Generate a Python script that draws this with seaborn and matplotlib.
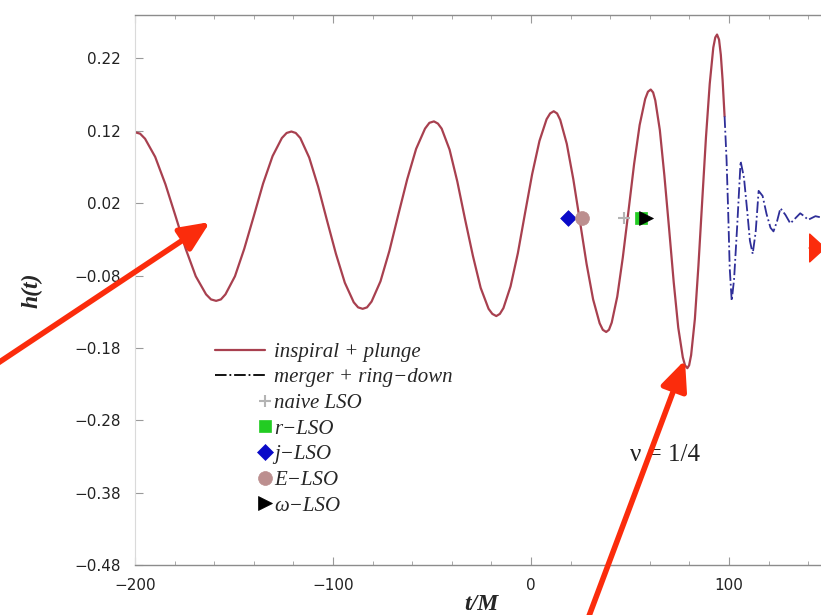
import numpy as np
import pandas as pd
import seaborn as sns
import matplotlib.pyplot as plt
from matplotlib.lines import Line2D
from matplotlib.ticker import MultipleLocator
from matplotlib.legend_handler import HandlerLine2D

# inspiral + plunge part of h(t) (one row per half cycle)
t_insp = [-200, -197.4, -194.9, -189.8, -184.6, -179.5, -174.4, -169.3, -164.1, -161.6,
          -159, -156.6, -154.3, -149.5, -144.8, -140, -135.3, -130.5, -125.8, -123.4,
          -121, -118.8, -116.5, -112, -107.5, -103, -98.5, -94, -89.5, -87.3,
          -85, -82.8, -80.5, -76, -71.5, -67, -62.5, -58, -53.5, -51.3,
          -49, -47.0, -45.1, -41.1, -37.2, -33.3, -29.3, -25.4, -21.4, -19.5,
          -17.5, -15.7, -13.9, -10.3, -6.6, -3.0, 0.6, 4.3, 7.9, 9.7,
          11.5, 13.2, 14.8, 18.1, 21.4, 24.8, 28.1, 31.4, 34.7, 36.3,
          38, 39.4, 40.8, 43.6, 46.4, 49.3, 52.1, 54.9, 57.7, 59.1,
          60.5, 61.7, 62.8, 65.1, 67.4, 69.8, 72.1, 74.4, 76.7, 77.8,
          79, 79.9, 80.9, 82.8, 84.6, 86.5, 88.4, 90.3, 92.1, 93.1,
          94, 95.0, 95.9, 96.8, 97.8]
h_insp = [0.118, 0.116, 0.109, 0.084, 0.046, 0.002, -0.043, -0.081, -0.106, -0.113,
          -0.115, -0.113, -0.106, -0.081, -0.043, 0.002, 0.047, 0.085, 0.110, 0.117,
          0.119, 0.117, 0.110, 0.083, 0.043, -0.004, -0.050, -0.090, -0.117, -0.124,
          -0.126, -0.124, -0.116, -0.088, -0.046, 0.004, 0.053, 0.095, 0.123, 0.131,
          0.133, 0.130, 0.123, 0.094, 0.050, -0.002, -0.053, -0.097, -0.126, -0.133,
          -0.136, -0.133, -0.125, -0.095, -0.049, 0.006, 0.060, 0.106, 0.136, 0.144,
          0.147, 0.144, 0.135, 0.102, 0.053, -0.006, -0.064, -0.113, -0.146, -0.155,
          -0.158, -0.155, -0.145, -0.109, -0.055, 0.010, 0.074, 0.128, 0.164, 0.174,
          0.177, 0.173, 0.162, 0.121, 0.058, -0.016, -0.089, -0.152, -0.193, -0.204,
          -0.208, -0.204, -0.190, -0.140, -0.066, 0.023, 0.111, 0.185, 0.235, 0.249,
          0.253, 0.246, 0.225, 0.190, 0.140]

# merger + ring-down part
t_ring = [97.8, 98.8, 99.6, 100.4, 101.4, 102.6, 104.2, 105.9, 107.6, 109.2,
          110.6, 112.0, 113.5, 115.0, 117.0, 119.0, 121.0, 122.5, 124.3, 126.0,
          128.5, 131.0, 133.5, 136.0, 138.0, 140.0, 143.7, 147.0]
h_ring = [0.140, 0.080, 0.010, -0.070, -0.115, -0.085, -0.010, 0.078, 0.055, 0.010,
          -0.032, -0.050, -0.020, 0.037, 0.030, 0.005, -0.014, -0.019, -0.005, 0.013,
          0.004, -0.008, -0.001, 0.006, 0.002, -0.003, 0.002, 0.000]

# LSO markers
lso_labels = ["naive LSO", "r\u2212LSO", "j\u2212LSO", "E\u2212LSO", "\u03c9\u2212LSO"]
lso_t = [47.0, 55.5, 18.5, 25.8, 58.0]
lso_h = [0.0, 0.0, 0.0, 0.0, 0.0]
lso_markers = ["+", "s", "D", "o", ">"]
lso_colors = ["#b4b4b4", "#22cc22", "#0a0ac8", "#bc8f8f", "#000000"]
lso_sizes = [9, 8, 8, 10, 10]

yticks = [0.22, 0.12, 0.02, -0.08, -0.18, -0.28, -0.38, -0.48]
xticks = [-200, -100, 0, 100]

red = "#a8404f"
navy = "#2e2e98"

sns.set_style("ticks")
plt.rcParams["font.family"] = ["DejaVu Sans"]
serif = "Liberation Serif"

fig = plt.figure(figsize=(8.21, 6.15), dpi=100)
ax = fig.add_axes([0.1644, 0.0813, 0.8356, 0.8943])

insp = pd.DataFrame({"t": t_insp, "h": h_insp})
ring = pd.DataFrame({"t": t_ring, "h": h_ring})
sns.lineplot(data=insp, x="t", y="h", ax=ax, color=red, lw=1.6)
sns.lineplot(data=ring, x="t", y="h", ax=ax, color=navy, lw=1.3, linestyle="-.")

for tt, hh, m, c, s in zip(lso_t, lso_h, lso_markers, lso_colors, lso_sizes):
    sns.scatterplot(x=[tt], y=[hh], ax=ax, marker=m, color=c, s=s ** 2,
                    edgecolor=c if m != "+" else None, linewidth=1.5 if m == "+" else 0.5,
                    zorder=5)

ax.set_xlim(-200, 146.5)
ax.set_ylim(-0.48, 0.28)
ax.set_xticks(xticks)
ax.set_xticklabels([str(v).replace("-", "\u2212") for v in xticks])
ax.xaxis.set_minor_locator(MultipleLocator(20))
ax.set_yticks(yticks)
ax.set_yticklabels([f"{v:.2f}".replace("-", "\u2212") for v in yticks])
ax.set_xlabel("")
ax.set_ylabel("")
ax.tick_params(axis="both", which="both", direction="in", top=True, right=False,
               color="#9a9a9a", labelsize=11, labelcolor="#222222")
ax.tick_params(axis="both", which="major", length=6)
ax.tick_params(axis="both", which="minor", length=3)
ax.tick_params(axis="y", pad=10)
ax.tick_params(axis="x", pad=9)

ax.spines["right"].set_visible(False)
for side in ["top", "bottom"]:
    ax.spines[side].set_color("#8c8c8c")
    ax.spines[side].set_linewidth(1.0)
ax.spines["left"].set_color("#dadada")
ax.spines["left"].set_linewidth(0.8)

fig.text(32 / 821, 1 - 290 / 615, "h(t)", rotation=90, ha="center", va="center",
         family=serif, style="italic", weight="bold", fontsize=17)
fig.text(481 / 821, 1 - 605 / 615, "t/M", ha="center", va="center",
         family=serif, style="italic", weight="bold", fontsize=17)
ax.text(67.7, -0.328, "\u03bd = 1/4", ha="center", va="center",
        family=serif, fontsize=18, color="#222222")


class RightMarker(HandlerLine2D):
    def create_artists(self, *args, **kwargs):
        arts = super().create_artists(*args, **kwargs)
        arts[0].set_markevery([2])
        return arts


handles = [Line2D([], [], color=red, lw=1.6),
           Line2D([], [], color="black", lw=1.3, linestyle="-.")]
marker_handles = []
for m, c, s in zip(lso_markers, lso_colors, lso_sizes):
    hnd = Line2D([], [], linestyle="none", marker=m, color=c, markersize=s,
                 markeredgewidth=1.5 if m == "+" else 0.5)
    marker_handles.append(hnd)
labels = ["inspiral + plunge", "merger + ring\u2212down"] + lso_labels
ax.legend(handles + marker_handles, labels, loc="upper left",
          bbox_to_anchor=(0.1166, 0.405), frameon=False, borderpad=0,
          borderaxespad=0, handlelength=2.4, handletextpad=0.45, labelspacing=0.29,
          prop={"family": serif, "style": "italic", "size": 15},
          handler_map={h: RightMarker() for h in marker_handles})

# red arrows overlaid on the figure
arrow = dict(arrowstyle="-|>,head_length=0.9,head_width=0.4", color="#fb2c0c",
             lw=4, mutation_scale=20, shrinkA=0, shrinkB=0)
for tip, tail in [((210, 393), (-20, 240)),
                  ((685, 255), (580, -25))]:
    ax.annotate("", xy=tip, xytext=tail, xycoords="figure pixels",
                textcoords="figure pixels", arrowprops=arrow, annotation_clip=False)
# third arrow: only its head shows at the right edge
head = dict(arrowstyle="-|>,head_length=0.55,head_width=0.5", color="#fb2c0c",
            lw=1, mutation_scale=20, shrinkA=0, shrinkB=0)
ax.annotate("", xy=(826, 367), xytext=(809, 367), xycoords="figure pixels",
            textcoords="figure pixels", arrowprops=head, annotation_clip=False)

fig.savefig("out.png", dpi=100, facecolor="white")
